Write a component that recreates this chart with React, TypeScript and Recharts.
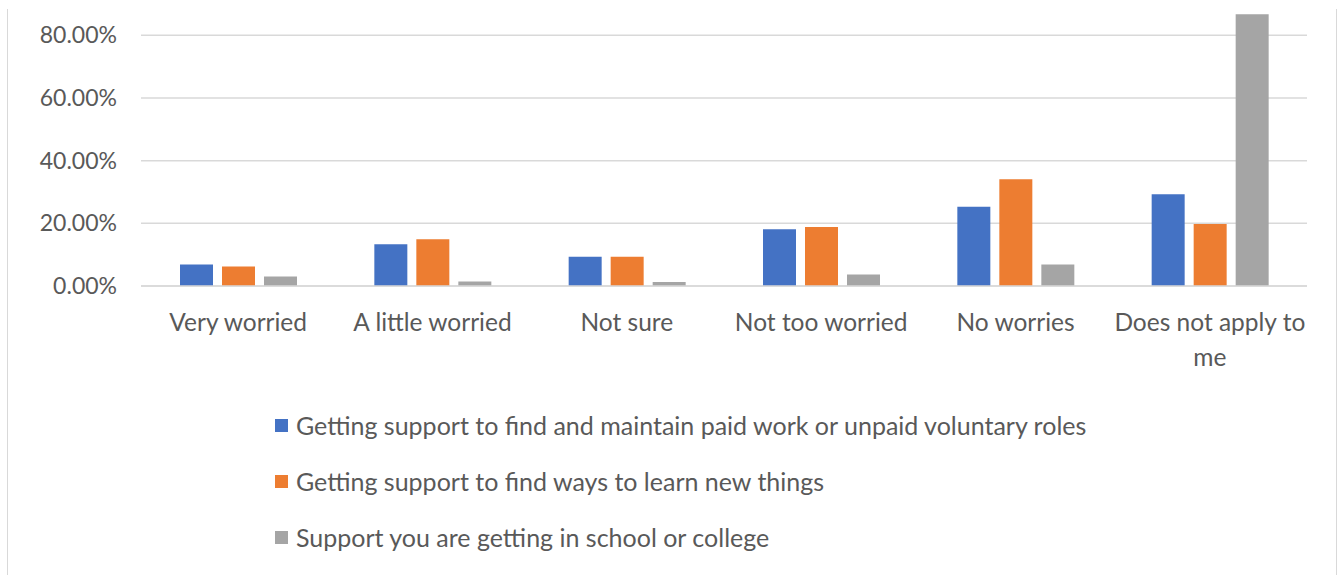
import React from "react";
import { BarChart, Bar, XAxis, YAxis, CartesianGrid } from "recharts";

const categories = ["Very worried", "A little worried", "Not sure", "Not too worried", "No worries", "Does not apply to me"];
const categoryLines = [["Very worried"], ["A little worried"], ["Not sure"], ["Not too worried"], ["No worries"], ["Does not apply to", "me"]];
const seriesNames = [
  "Getting support to find and maintain paid work or unpaid voluntary roles",
  "Getting support to find ways to learn new things",
  "Support you are getting in school or college",
];
const seriesColors = ["#4472C4", "#ED7D31", "#A5A5A5"];
const workValues = [0.069, 0.133, 0.093, 0.181, 0.253, 0.293];
const learnValues = [0.062, 0.149, 0.093, 0.188, 0.341, 0.198];
const schoolValues = [0.030, 0.014, 0.013, 0.037, 0.069, 0.867];
const yTicks = [0, 0.2, 0.4, 0.6, 0.8];

const data = categories.map((c, i) => ({
  name: c,
  s0: workValues[i],
  s1: learnValues[i],
  s2: schoolValues[i],
}));

const FONT = "Lato, 'Open Sans', sans-serif";
const TEXT = "#595959";

const XTick = (props: any) => {
  const { x, y, payload } = props;
  const lines = categoryLines[payload.index] || [payload.value];
  return (
    <g>
      {lines.map((l: string, k: number) => (
        <text key={k} x={x} y={y + 37 + k * 35} textAnchor="middle" fill={TEXT} fontSize={24.5} fontFamily={FONT}>
          {l}
        </text>
      ))}
    </g>
  );
};

export default function App() {
  return (
    <div style={{ position: "absolute", left: 0, top: 0, width: 1340, height: 575, background: "#fff" }}>
      <div style={{ position: "absolute", left: 7, top: 9, width: 1330, height: 566, borderLeft: "1px solid #d9d9d9", borderRight: "1px solid #d9d9d9", boxSizing: "border-box" }} />
      <BarChart
        width={1340}
        height={575}
        data={data}
        margin={{ top: 4, right: 33, left: 0, bottom: 0 }}
        barSize={33}
        barGap={9}
      >
        <CartesianGrid vertical={false} horizontalValues={yTicks} stroke="#d9d9d9" strokeWidth={1.5} />
        <XAxis
          dataKey="name"
          height={289}
          axisLine={{ stroke: "#d9d9d9", strokeWidth: 1.5 }}
          tickLine={false}
          interval={0}
          tick={<XTick />}
        />
        <YAxis
          width={141}
          domain={[0, 0.9]}
          ticks={yTicks}
          axisLine={false}
          tickLine={false}
          tickSize={0}
          tickMargin={24}
          tickFormatter={(v: number) => (v * 100).toFixed(2) + "%"}
          tick={{ fill: TEXT, fontSize: 23, fontFamily: FONT }}
        />
        <Bar dataKey="s0" name={seriesNames[0]} fill={seriesColors[0]} isAnimationActive={false} />
        <Bar dataKey="s1" name={seriesNames[1]} fill={seriesColors[1]} isAnimationActive={false} />
        <Bar dataKey="s2" name={seriesNames[2]} fill={seriesColors[2]} isAnimationActive={false} />
      </BarChart>
      <div style={{ position: "absolute", left: 275, top: 397, fontFamily: FONT, fontSize: 25, color: TEXT }}>
        {seriesNames.map((n, i) => (
          <div key={n} style={{ display: "flex", alignItems: "center", height: 56 }}>
            <span style={{ display: "inline-block", width: 13, height: 13, background: seriesColors[i], marginRight: 8 }} />
            <span style={{ lineHeight: "34px" }}>{n}</span>
          </div>
        ))}
      </div>
    </div>
  );
}
